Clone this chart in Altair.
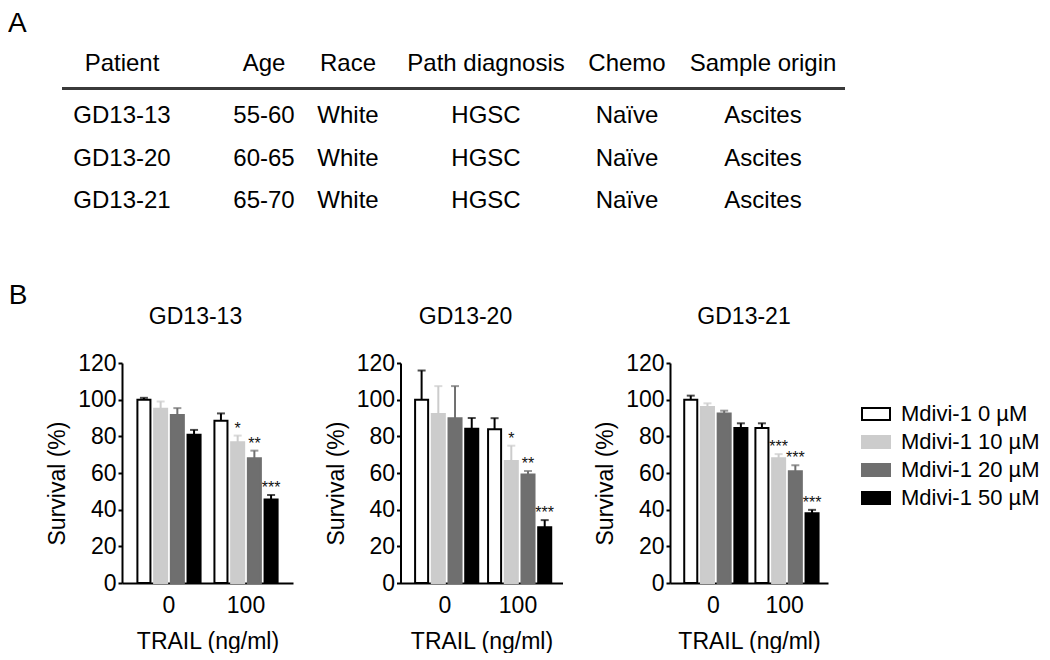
import altair as alt
import pandas as pd

FONT = "Liberation Sans"

# ---------------- Panel A: table ----------------
table_columns = ["Patient", "Age", "Race", "Path diagnosis", "Chemo", "Sample origin"]
patients = ["GD13-13", "GD13-20", "GD13-21"]
ages = ["55-60", "60-65", "65-70"]
races = ["White", "White", "White"]
diagnoses = ["HGSC", "HGSC", "HGSC"]
chemo = ["Naïve", "Naïve", "Naïve"]
origins = ["Ascites", "Ascites", "Ascites"]

# ---------------- Panel B: bars ----------------
trail_doses = ["0", "100"]
mdivi_levels = ["Mdivi-1 0 µM", "Mdivi-1 10 µM", "Mdivi-1 20 µM", "Mdivi-1 50 µM"]
level_fills = ["#ffffff", "#cccccc", "#6f6f6f", "#000000"]
level_strokes = ["#000000", "#cccccc", "#6f6f6f", "#000000"]

survival_gd13_13 = [100, 95, 91.7, 80.8, 88.5, 76.8, 68, 45.6]
error_gd13_13 = [1, 4, 3.7, 2.7, 4, 3.6, 4.2, 2.4]
stars_gd13_13 = ["", "", "", "", "", "*", "**", "***"]

survival_gd13_20 = [100, 92.2, 89.8, 84.2, 83.8, 66.6, 59.2, 30.4]
error_gd13_20 = [15.9, 15.2, 17.6, 5.8, 6.1, 8.3, 1.9, 3.9]
stars_gd13_20 = ["", "", "", "", "", "*", "**", "***"]

survival_gd13_21 = [100, 96, 92.5, 84.5, 84.5, 68, 61, 38]
error_gd13_21 = [2.2, 2, 1.5, 2.6, 2.6, 2.3, 3.2, 1.9]
stars_gd13_21 = ["", "", "", "", "", "***", "***", "***"]

# ---------------- table chart ----------------
rows = []
for c, name in enumerate(table_columns):
    rows.append({"col": c, "row": 0, "text": name})
body = [patients, ages, races, diagnoses, chemo, origins]
for c, colvals in enumerate(body):
    for r, v in enumerate(colvals):
        rows.append({"col": c, "row": r + 1, "text": v})
table_df = pd.DataFrame(rows)

col_scale = alt.Scale(domain=[0, 1, 2, 3, 4, 5], range=[0, 142, 226, 364, 505, 641])
row_scale = alt.Scale(domain=[0, 1, 2, 3], range=[27, 79, 122, 164])

table_text = alt.Chart(table_df).mark_text(
    font=FONT, fontSize=24, align="center", baseline="alphabetic", color="black"
).encode(
    x=alt.X("col:Q", scale=col_scale, axis=None),
    y=alt.Y("row:Q", scale=row_scale, axis=None),
    text="text:N",
)
table_rule = alt.Chart(table_df).mark_rule(color="#3a3a3a", strokeWidth=2.5).encode(
    x=alt.value(-60), x2=alt.value(723), y=alt.datum(0.337)
)
table = alt.layer(table_text, table_rule).properties(
    width=723, height=175,
    title=alt.TitleParams("A", anchor="start", frame="group", fontSize=28,
                          fontWeight="normal", font=FONT, dx=-114, offset=6, color="black"),
)


def panel(name, values, errors, stars, width, title_dx, show_legend):
    df = pd.DataFrame({
        "dose": [d for d in trail_doses for _ in mdivi_levels],
        "level": mdivi_levels * len(trail_doses),
        "survival": values,
        "err": errors,
        "sig": stars,
    })
    fill_scale = alt.Scale(domain=mdivi_levels, range=level_fills)
    stroke_scale = alt.Scale(domain=mdivi_levels, range=level_strokes)
    if show_legend:
        legend = alt.Legend(
            orient="none", legendX=191, legendY=36, title=None,
            symbolType="M-1,-0.43H1V0.43H-1Z", symbolSize=784, symbolStrokeWidth=2,
            labelFont=FONT, labelFontSize=22, labelColor="black", labelOffset=10,
            rowPadding=2, padding=0,
        )
    else:
        legend = None
    y_scale = alt.Scale(domain=[0, 120])
    y_axis = alt.Axis(title="Survival (%)", values=[0, 20, 40, 60, 80, 100, 120],
                      labelOverlap=False, tickSize=4, labelPadding=2, titlePadding=8,
                      titleY=120)

    base = alt.Chart(df).transform_calculate(top="datum.survival + datum.err").encode(
        x=alt.X("dose:N", sort=trail_doses,
                scale=alt.Scale(paddingInner=0.18, paddingOuter=0.2),
                axis=alt.Axis(title="TRAIL (ng/ml)", labelAngle=0, ticks=False,
                              labelPadding=11, titlePadding=13)),
        xOffset=alt.XOffset("level:N", sort=mdivi_levels,
                            scale=alt.Scale(paddingInner=0.22, paddingOuter=0)),
    )
    bars = base.mark_bar(strokeWidth=2).encode(
        y=alt.Y("survival:Q", scale=y_scale, axis=y_axis),
        fill=alt.Fill("level:N", scale=fill_scale, sort=mdivi_levels, legend=legend),
        stroke=alt.Stroke("level:N", scale=stroke_scale, sort=mdivi_levels, legend=legend),
    )
    err = base.mark_rule(strokeWidth=2).encode(
        y=alt.Y("survival:Q", scale=y_scale, axis=y_axis), y2="top:Q",
        stroke=alt.Stroke("level:N", scale=stroke_scale, sort=mdivi_levels, legend=legend),
    )
    caps = base.mark_tick(size=8, thickness=2).encode(
        y=alt.Y("top:Q", scale=y_scale, axis=y_axis),
        color=alt.Color("level:N", scale=stroke_scale, sort=mdivi_levels, legend=None),
    )
    sig = base.mark_text(font=FONT, fontSize=16, baseline="alphabetic", dy=-2,
                         color="#111111").encode(
        y=alt.Y("top:Q", scale=y_scale, axis=y_axis), text="sig:N")
    return alt.layer(bars, err, caps, sig).properties(
        width=width, height=220,
        title=alt.TitleParams(name, fontSize=23, fontWeight="normal", font=FONT,
                              frame="group", dx=title_dx, offset=23, color="black"),
    )


p1 = panel("GD13-13", survival_gd13_13, error_gd13_13, stars_gd13_13, 171, -12, False)
p2 = panel("GD13-20", survival_gd13_20, error_gd13_20, stars_gd13_20, 162, -16, False)
p3 = panel("GD13-21", survival_gd13_21, error_gd13_21, stars_gd13_21, 158, -5, True)

bottom = alt.hconcat(p1, p2, p3, spacing=31.5).resolve_legend(
    fill="independent", stroke="independent"
).properties(
    title=alt.TitleParams("B", anchor="start", fontSize=28, fontWeight="normal",
                          font=FONT, dx=-38, dy=8, color="black"),
)

chart = alt.vconcat(table, bottom, spacing=63).properties(
    padding={"left": 0, "top": 2, "right": 0, "bottom": 0}
).configure_view(stroke=None).configure_axis(
    domainColor="black", domainWidth=2, tickColor="black", tickWidth=2,
    labelFont=FONT, titleFont=FONT, labelFontSize=23, titleFontSize=23,
    labelColor="black", titleColor="black", titleFontWeight="normal", grid=False,
)

chart.save("out.html", embed_options={"renderer": "svg", "actions": False})
